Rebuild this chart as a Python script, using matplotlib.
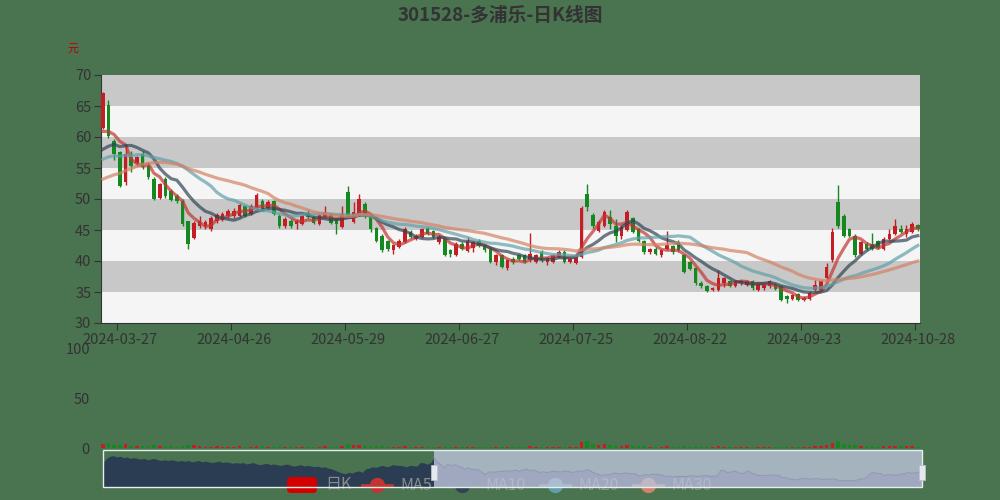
import matplotlib
matplotlib.use('Agg')
import matplotlib.pyplot as plt
import matplotlib.transforms as mtransforms
from matplotlib.patches import FancyBboxPatch, Rectangle
from matplotlib.lines import Line2D
import numpy as np
import pandas as pd

plt.rcParams['font.family'] = ['Noto Sans CJK SC', 'DejaVu Sans']

# Datos
TITULO = '301528-多浦乐-日K线图'
UNIDAD = '元'
etiquetas_x = ['2024-03-27', '2024-04-26', '2024-05-29', '2024-06-27',
               '2024-07-25', '2024-08-22', '2024-09-23', '2024-10-28']
indice_x = [3, 23, 43, 63, 83, 103, 123, 143]

apertura = [61.5, 65.2, 59.3, 57.6, 52.7, 56.8, 55.8, 57.2, 55.3, 53.3,
            50.1, 53.2, 51.3, 50.5, 49.7, 46.4, 43.7, 45.6, 45.7, 45.2,
            46.4, 46.6, 47.3, 47.3, 47.3, 48.9, 47.6, 48.5, 49.7, 48.5,
            49.6, 47.3, 45.7, 46.5, 46.0, 46.0, 47.8, 47.1, 46.0, 47.1,
            47.6, 46.8, 45.5, 51.1, 46.3, 47.5, 49.2, 47.3, 45.3, 44.1,
            43.2, 41.7, 42.3, 43.1, 44.7, 43.6, 43.9, 45.3, 44.8, 43.1,
            43.6, 41.7, 41.0, 42.8, 41.6, 42.1, 43.2, 42.5, 42.0, 39.9,
            41.0, 38.8, 40.4, 40.9, 40.9, 40.1, 39.9, 41.5, 39.9, 39.9,
            40.7, 41.5, 39.9, 39.7, 40.7, 50.8, 47.4, 44.8, 45.7, 47.1,
            45.6, 44.1, 45.0, 46.9, 45.1, 43.2, 41.4, 42.0, 40.9, 42.0,
            42.4, 43.1, 40.9, 39.8, 38.9, 36.5, 35.9, 35.3, 35.3, 36.4,
            36.8, 36.0, 36.4, 36.2, 36.7, 35.3, 35.6, 35.9, 36.2, 35.9,
            34.3, 33.9, 34.6, 33.7, 33.9, 35.3, 35.3, 37.2, 40.1, 49.5,
            47.3, 45.2, 44.1, 41.2, 42.8, 42.8, 43.2, 42.0, 43.6, 44.4,
            45.2, 44.4, 44.7, 45.8]
cierre = [67.1, 60.1, 57.2, 52.1, 57.2, 55.3, 56.8, 55.1, 53.5, 50.0,
          52.4, 50.5, 49.9, 49.6, 46.0, 42.8, 46.2, 46.5, 46.3, 46.9,
          47.4, 47.6, 48.0, 48.1, 49.0, 47.3, 48.9, 50.6, 48.4, 49.5,
          47.6, 45.7, 46.7, 45.6, 46.5, 47.3, 47.1, 46.2, 47.4, 47.9,
          46.2, 46.0, 47.6, 47.5, 47.9, 50.0, 47.3, 45.1, 43.3, 41.7,
          42.0, 42.6, 43.3, 45.2, 43.9, 44.1, 45.1, 44.4, 43.9, 43.9,
          41.0, 41.2, 42.8, 42.0, 43.3, 43.1, 42.4, 41.7, 39.9, 40.9,
          39.0, 40.2, 39.8, 40.3, 39.8, 41.2, 40.9, 40.1, 40.5, 40.9,
          41.5, 39.9, 40.3, 40.7, 48.5, 48.7, 45.6, 46.3, 47.9, 46.0,
          44.0, 45.5, 47.9, 44.7, 43.2, 41.4, 41.9, 41.2, 41.7, 42.5,
          41.4, 41.7, 38.2, 38.7, 36.4, 35.9, 35.2, 35.6, 37.2, 37.2,
          36.0, 36.7, 36.7, 36.8, 35.6, 36.2, 36.1, 36.7, 35.5, 33.7,
          33.9, 34.5, 33.7, 34.1, 34.9, 36.2, 36.7, 39.1, 44.6, 45.6,
          44.1, 44.1, 40.9, 43.1, 42.0, 42.0, 42.1, 43.6, 44.4, 45.7,
          44.7, 45.2, 46.0, 45.1]
maximo = [67.2, 66.0, 59.6, 57.8, 58.8, 57.7, 57.0, 57.8, 55.9, 53.5,
          52.6, 53.5, 51.6, 50.8, 50.0, 46.5, 46.4, 47.3, 46.6, 47.2,
          47.7, 47.9, 48.4, 48.6, 49.3, 49.1, 49.2, 50.9, 50.0, 49.8,
          49.9, 47.6, 47.1, 46.8, 46.8, 47.5, 48.2, 47.3, 47.6, 48.8,
          47.8, 47.0, 48.9, 52.1, 49.5, 50.8, 49.5, 47.5, 45.5, 44.3,
          43.4, 42.8, 43.5, 45.5, 45.0, 44.3, 45.4, 45.5, 45.0, 44.2,
          43.8, 41.9, 43.0, 43.0, 43.9, 43.3, 43.5, 42.7, 42.2, 41.2,
          41.2, 40.4, 40.6, 41.1, 41.1, 44.5, 41.1, 41.7, 40.7, 41.1,
          41.8, 41.7, 40.5, 40.9, 48.8, 52.4, 47.8, 46.6, 48.2, 48.3,
          46.8, 45.8, 48.3, 47.1, 45.3, 43.4, 42.1, 42.2, 41.9, 44.9,
          42.6, 43.4, 41.1, 40.0, 39.1, 36.7, 36.1, 35.8, 38.5, 37.4,
          37.0, 36.9, 36.9, 37.0, 36.9, 36.4, 36.3, 36.9, 36.4, 36.1,
          34.5, 34.7, 34.8, 34.3, 35.1, 37.0, 36.9, 39.6, 45.3, 52.2,
          47.6, 45.4, 44.3, 43.3, 43.0, 44.5, 43.4, 43.8, 45.2, 46.8,
          45.8, 45.8, 46.3, 46.0]
minimo = [61.3, 59.8, 56.3, 51.9, 52.3, 54.3, 55.3, 54.9, 53.2, 49.9,
          50.0, 50.2, 49.6, 49.3, 45.7, 42.0, 43.6, 45.4, 45.1, 44.9,
          46.1, 46.4, 47.0, 47.0, 47.1, 47.1, 47.4, 48.3, 48.1, 48.2,
          47.4, 45.4, 45.4, 45.3, 45.2, 45.8, 46.9, 46.0, 45.8, 46.9,
          46.0, 44.4, 45.3, 47.3, 46.1, 47.3, 47.0, 44.7, 43.0, 41.5,
          41.6, 41.1, 42.1, 42.9, 43.7, 43.4, 43.7, 44.2, 43.7, 42.8,
          40.8, 40.6, 40.8, 41.8, 41.4, 41.5, 42.2, 41.5, 39.7, 39.3,
          38.8, 38.5, 39.5, 40.1, 39.6, 39.9, 39.7, 39.9, 39.3, 39.7,
          40.5, 39.7, 39.6, 39.5, 40.5, 48.1, 45.3, 44.6, 45.5, 45.2,
          43.1, 43.5, 44.8, 44.5, 43.0, 41.2, 41.1, 41.0, 40.7, 41.8,
          41.2, 41.5, 38.0, 38.5, 36.2, 35.7, 35.0, 35.1, 35.1, 35.8,
          35.8, 35.8, 36.2, 35.9, 35.4, 35.1, 35.4, 35.7, 35.3, 33.5,
          33.2, 33.7, 33.5, 33.5, 33.7, 35.1, 35.1, 37.0, 39.9, 45.3,
          43.9, 43.9, 40.6, 41.0, 41.8, 41.8, 41.9, 41.7, 43.4, 44.2,
          44.5, 43.9, 44.5, 44.9]
volumen = [4.5, 4.8, 3.0, 3.3, 3.6, 2.4, 1.8, 2.1, 2.0, 2.7,
           2.3, 2.4, 1.7, 1.4, 2.4, 3.3, 2.9, 1.8, 1.4, 1.5,
           1.7, 1.5, 1.4, 1.5, 2.0, 1.5, 1.5, 2.3, 1.7, 1.4,
           1.5, 1.8, 1.2, 1.2, 1.1, 1.4, 1.2, 1.1, 1.4, 1.7,
           1.4, 1.5, 2.4, 3.9, 2.6, 3.0, 2.3, 2.0, 2.1, 2.3,
           1.5, 1.4, 1.4, 2.0, 1.4, 1.1, 1.4, 1.2, 1.1, 1.1,
           1.5, 1.1, 1.4, 1.1, 1.5, 1.2, 0.9, 1.1, 1.5, 1.2,
           1.4, 1.2, 0.9, 0.8, 0.9, 2.4, 1.2, 1.1, 0.9, 0.9,
           1.1, 1.2, 0.9, 1.1, 6.3, 6.9, 3.9, 2.7, 3.6, 2.6,
           2.4, 2.0, 3.3, 2.4, 1.8, 1.7, 1.2, 1.1, 1.1, 2.0,
           1.2, 1.4, 2.1, 1.4, 1.8, 1.2, 1.1, 0.9, 1.7, 1.2,
           1.1, 0.9, 0.8, 0.9, 0.9, 0.9, 0.8, 0.9, 0.8, 1.5,
           1.1, 0.9, 0.9, 0.8, 1.2, 2.0, 1.8, 2.7, 5.1, 6.6,
           4.5, 2.7, 2.9, 2.4, 1.8, 2.0, 1.5, 2.0, 2.1, 2.4,
           1.7, 1.8, 2.0, 1.4]
# cierres anteriores a la ventana visible (para medias y la barra de zoom)
cierre_previo = [60, 66, 69, 70, 68, 69, 67, 68, 66, 67,
                 66, 65, 66, 64, 65, 66, 64, 63, 64, 63,
                 64, 63, 62, 63, 62, 63, 61, 62, 63, 61,
                 62, 61, 60, 61, 62, 60, 61, 60, 59, 60,
                 59, 60, 58, 59, 60, 58, 57, 58, 59, 57,
                 58, 57, 56, 57, 58, 56, 55, 56, 57, 55,
                 56, 55, 54, 55, 53, 54, 52, 51,
                 49, 47, 45, 44, 46, 45, 47, 48, 46, 51,
                 52, 54, 53, 55, 56, 54, 55, 57, 56, 56,
                 55, 54, 56, 55.5, 55,
                 60.1, 59.7, 57.6, 60.0]

ventanas_ma = [5, 10, 20, 30]
nombres_ma = ['MA5', 'MA10', 'MA20', 'MA30']
colores_ma = ['#c23531', '#2f4554', '#61a0a8', '#d48265']

COLOR_FONDO = '#4a7350'
COLOR_SUBE = '#c41e24'
COLOR_BAJA = '#15891f'
COLOR_TEXTO = '#333333'

# Cálculos
n = len(cierre)
x = np.arange(n)
todos = pd.Series(cierre_previo + cierre)
medias = [todos.rolling(w).mean().values[len(cierre_previo):] for w in ventanas_ma]
sube = [c >= o for o, c in zip(apertura, cierre)]
colores = [COLOR_SUBE if s else COLOR_BAJA for s in sube]

fig = plt.figure(figsize=(10, 5), dpi=100, facecolor=COLOR_FONDO)
pix = mtransforms.Affine2D().scale(1 / 1000, -1 / 500).translate(0, 1) + fig.transFigure

# Gráfico principal de velas
ax = fig.add_axes([0.101, 0.354, 0.819, 0.496])
ax.set_facecolor('#f5f5f5')
for k in range(8):
    if k % 2 == 1:
        ax.axhspan(30 + 5 * k, 35 + 5 * k, color='#c8c8c8', lw=0, zorder=0)

ax.vlines(x, minimo, maximo, colors=colores, lw=1, zorder=2)
cuerpo = [max(abs(c - o), 0.1) for o, c in zip(apertura, cierre)]
base = [min(o, c) for o, c in zip(apertura, cierre)]
ax.bar(x, cuerpo, bottom=base, width=0.62, color=colores, lw=0, zorder=3)

for m, col in zip(medias, colores_ma):
    ax.plot(x, m, color=col, lw=2.3, alpha=0.7, solid_joinstyle='round', zorder=4)

ax.set_xlim(-0.31, 143.38)
ax.set_ylim(30, 70)
ax.set_yticks(range(30, 71, 5))
ax.set_xticks([i - 0.5 for i in indice_x])
ax.set_xticklabels([])
ax.set_xticks(indice_x, minor=True)
ax.set_xticklabels(etiquetas_x, minor=True)
ax.tick_params(axis='x', which='major', length=5, color=COLOR_TEXTO)
ax.tick_params(axis='x', which='minor', length=0, pad=7, labelsize=10.5, labelcolor=COLOR_TEXTO)
ax.tick_params(axis='y', length=5, pad=2, labelsize=10.5, color=COLOR_TEXTO, labelcolor=COLOR_TEXTO)
for lado in ['top', 'right']:
    ax.spines[lado].set_visible(False)
for lado in ['left', 'bottom']:
    ax.spines[lado].set_color(COLOR_TEXTO)

fig.text(0.5, 1 - 15 / 500, TITULO, ha='center', va='center', fontsize=13.5,
         fontweight='bold', color=COLOR_TEXTO)
fig.text(0.073, 1 - 49 / 500, UNIDAD, ha='center', va='center', fontsize=8, color='#c00000')

# Volumen
vax = fig.add_axes([0.101, 0.104, 0.819, 0.2])
vax.patch.set_visible(False)
vax.bar(x, volumen, width=0.62, color=colores, lw=0)
vax.set_xlim(-0.31, 143.38)
vax.set_ylim(0, 100)
vax.set_yticks([0, 50, 100])
vax.set_xticks([])
vax.tick_params(axis='y', length=0, pad=8, labelsize=10.5, labelcolor=COLOR_TEXTO)
for s in vax.spines.values():
    s.set_visible(False)

# Barra de zoom con la sombra de datos
sax = fig.add_axes([0.103, 1 - 487 / 500, 0.819, 37 / 500])
sax.patch.set_visible(False)
xt = np.arange(len(todos))
sax.fill_between(xt, todos.values, 25, color='#2b3d52', lw=0, zorder=1)
sax.set_xlim(0, len(todos) - 1)
sax.set_ylim(25, 78)
sax.set_xticks([])
sax.set_yticks([])
for s in sax.spines.values():
    s.set_visible(False)

# Leyenda (queda bajo el relleno de la barra)
sax.add_patch(FancyBboxPatch((287, 477), 30, 16, boxstyle='round,pad=0,rounding_size=4',
                             fc='#d40000', ec='none', transform=pix, zorder=3, clip_on=False))
sax.text(325, 485, '日K', transform=pix, va='center', ha='left', fontsize=11.5,
         color='#8c8c8c', zorder=3, clip_on=False)
pos_ley = [377, 462, 555, 648]
for px, nom, col in zip(pos_ley, nombres_ma, colores_ma):
    sax.add_line(Line2D([px - 15, px + 15], [485, 485], color=col, lw=2, transform=pix,
                        zorder=3, clip_on=False))
    sax.add_line(Line2D([px], [485], marker='o', ms=10, color=col, mec=col, transform=pix,
                        zorder=3, clip_on=False))
    sax.text(px + 23, 485, nom, transform=pix, va='center', ha='left', fontsize=11.5,
             color='#8c8c8c', zorder=3, clip_on=False)

inicio = len(cierre_previo)
sax.axvspan(inicio, len(todos) - 1, color=(0.74, 0.77, 0.86), alpha=0.8, lw=0, zorder=5)
sax.plot(xt[inicio:], todos.values[inicio:], color='#8f9bb3', lw=0.8, zorder=6)
sax.add_patch(Rectangle((0, 0), 1, 1, transform=sax.transAxes, fill=False,
                        ec='#e6eeee', lw=1, zorder=7, clip_on=False))
for hx in [inicio, len(todos) - 1]:
    sax.add_patch(Rectangle((hx - 0.8, 0.2), 1.6, 0.4, transform=sax.get_xaxis_transform(),
                            fc='#e4e8ef', ec='#b8c2d0', lw=0.6, zorder=8, clip_on=False))

fig.savefig('out.png', dpi=100, facecolor=COLOR_FONDO)
